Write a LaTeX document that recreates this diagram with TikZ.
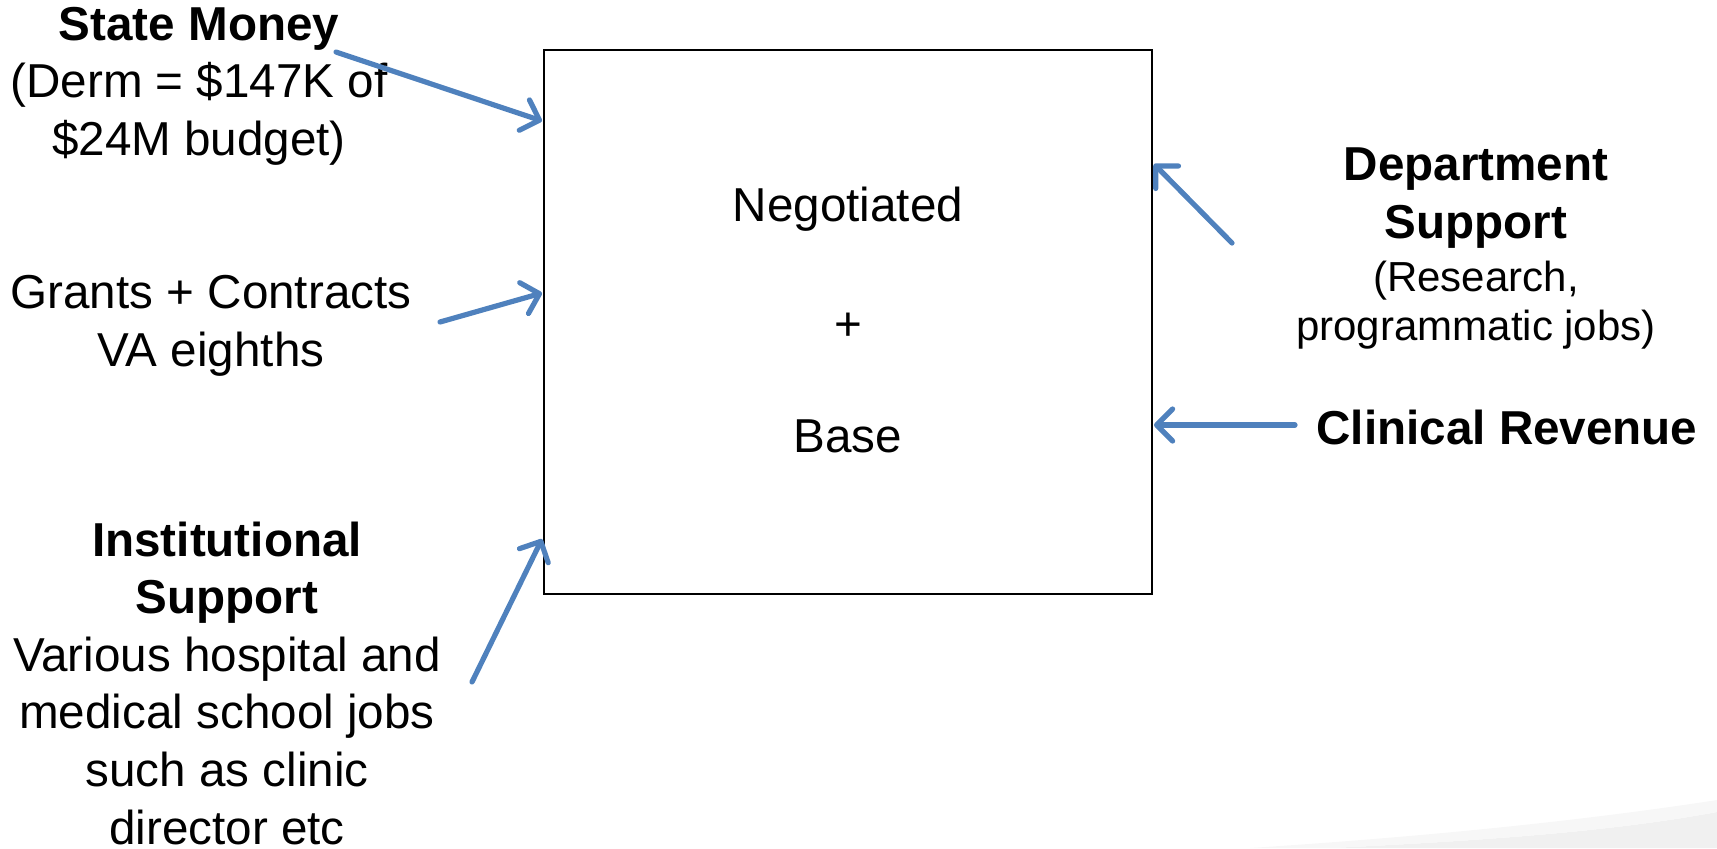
\documentclass[tikz,border=0pt]{standalone}
\usepackage{fontspec}
\setmainfont{Liberation Sans}
\usetikzlibrary{arrows.meta}
\definecolor{arrowblue}{HTML}{4F81BD}
\begin{document}
\begin{tikzpicture}[x=0.5pt,y=-0.5pt,
  txt/.style={align=center,inner sep=0pt,font=\fontsize{23.8}{28.8}\selectfont},
  smalltxt/.style={align=center,inner sep=0pt,font=\fontsize{21}{24.5}\selectfont},
  feed/.style={draw=arrowblue,line width=2.6pt,line cap=round,
    -{Straight Barb[length=8pt,width=16pt,round]}},
  money/.style={draw,line width=1.1pt,minimum width=304pt,minimum height=272pt,inner sep=0pt}]
\useasboundingbox (0,0) rectangle (1717,848);
% faint swoosh bottom right
\fill[black!6] (1330,848) .. controls (1500,840) and (1620,830) .. (1717,812) -- (1717,848) -- cycle;
\fill[black!3] (1250,848) .. controls (1450,835) and (1600,818) .. (1717,800) -- (1717,812) .. controls (1620,830) and (1500,840) .. (1330,848) -- cycle;

\node[money] (box) at (848,322) {};
\node[txt] (neg) at (848,209) {Negotiated};
\node[txt] (plus) at (848,327) {+};
\node[txt] (base) at (848,436) {Base};

\node[txt] (state) at (199,86) {\textbf{State Money}\\(Derm = \$147K of\\\$24M budget)};
\node[txt] (grants) at (211,326) {Grants + Contracts\\VA eighths};
\node[txt] (inst) at (227,683) {\textbf{Institutional}\\\textbf{Support}\\Various hospital and\\medical school jobs\\such as clinic\\director etc};
\node[txt] (dept) at (1476,198) {\textbf{Department}\\\textbf{Support}};
\node[smalltxt] (deptsub) at (1476,305) {(Research,\\programmatic jobs)};
\node[txt,font=\fontsize{23.8}{28.8}\selectfont\bfseries] (clin) at (1507,427) {Clinical Revenue};

\coordinate (s1) at (336,52);   \coordinate (e1) at (542,121);
\coordinate (s2) at (440,322);  \coordinate (e2) at (542,293);
\coordinate (s3) at (472,682);  \coordinate (e3) at (542,539);
\coordinate (s4) at (1232,243); \coordinate (e4) at (1154,164);
\coordinate (s5) at (1295,425); \coordinate (e5) at (1154,425);

\draw[feed] (s1) -- (e1);
\draw[feed] (s2) -- (e2);
\draw[feed] (s3) -- (e3);
\draw[feed] (s4) -- (e4);
\draw[feed] (s5) -- (e5);
\end{tikzpicture}
\end{document}
